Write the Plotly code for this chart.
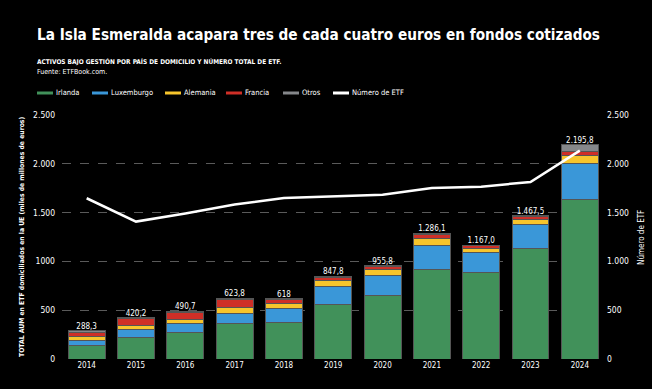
import plotly.graph_objects as go

years = ["2014", "2015", "2016", "2017", "2018", "2019", "2020", "2021", "2022", "2023", "2024"]
irlanda = [136, 222, 276, 361, 372, 556, 655, 914, 883, 1129, 1630]
luxemburgo = [52, 78, 85, 110, 143, 187, 201, 249, 205, 249, 378]
alemania = [40, 48, 48, 58, 51, 58, 61, 71, 41, 51, 72]
francia = [45, 65, 72, 85, 44, 38, 34, 41, 34, 34, 51]
otros = [15.3, 7.2, 9.7, 9.8, 8.0, 8.8, 4.8, 11.1, 4.0, 4.5, 64.8]
totales = [288.3, 420.2, 490.7, 623.8, 618.0, 847.8, 955.8, 1286.1, 1167.0, 1467.5, 2195.8]
etiquetas = ["288,3", "420,2", "490,7", "623,8", "618", "847,8", "955,8", "1.286,1", "1.167,0", "1.467,5", "2.195,8"]
num_etf = [1647, 1408, 1490, 1582, 1650, 1667, 1684, 1753, 1766, 1814, 2135]

left_ticks = [0, 500, 1000, 1500, 2000, 2500]
left_text = ["0", "500", "1000", "1.500", "2.000", "2.500"]
right_text = ["0", "500", "1.000", "1.500", "2.000", "2.500"]

series = [
    ("Irlanda", irlanda, "#41915a"),
    ("Luxemburgo", luxemburgo, "#3a97d8"),
    ("Alemania", alemania, "#f7c52c"),
    ("Francia", francia, "#cf2f27"),
    ("Otros", otros, "#85878a"),
]

FONT = "DejaVu Sans Condensed, Roboto Condensed, Roboto, sans-serif"
fig = go.Figure()
for name, vals, col in series:
    fig.add_trace(go.Bar(x=years, y=vals, name=name, marker=dict(color=col, line=dict(color="#555555", width=1)),
                         showlegend=False))

fig.add_trace(go.Scatter(x=years, y=totales, mode="text", text=etiquetas, textposition="top center",
                         textfont=dict(family=FONT, size=8, color="white"), showlegend=False, cliponaxis=False))
fig.add_trace(go.Scatter(x=years, y=num_etf, mode="lines", name="Número de ETF", yaxis="y2",
                         line=dict(color="white", width=2.5), showlegend=False))

W, H = 652, 389
L, R, T, B = 62, 50, 115, 30
pw, ph = W - L - R, H - T - B

def px(x):
    return (x - L) / pw

def py(y):
    return (H - B - y) / ph

ann = [
    dict(text="<b>La Isla Esmeralda acapara tres de cada cuatro euros en fondos cotizados</b>", x=px(35), y=py(35),
         xanchor="left", yanchor="middle", font=dict(family=FONT, size=15.2, color="white")),
    dict(text="<b>ACTIVOS BAJO GESTIÓN POR PAÍS DE DOMICILIO Y NÚMERO TOTAL DE ETF.</b>", x=px(35), y=py(61),
         xanchor="left", yanchor="middle", font=dict(family=FONT, size=6.5, color="white")),
    dict(text="Fuente: ETFBook.com.", x=px(35), y=py(72),
         xanchor="left", yanchor="middle", font=dict(family=FONT, size=7, color="white")),
    dict(text="<b>TOTAL AUM en ETF domiciliados en la UE (miles de millones de euros)</b>", x=px(22), y=py(237),
         xanchor="center", yanchor="middle", textangle=-90, font=dict(family=FONT, size=6.8, color="white")),
    dict(text="Número de ETF", x=px(641), y=py(238),
         xanchor="center", yanchor="middle", textangle=-90, font=dict(family=FONT, size=8, color="white")),
]
shapes = []
legend_items = [("Irlanda", "#41915a", 37), ("Luxemburgo", "#3a97d8", 92), ("Alemania", "#f7c52c", 165),
                ("Francia", "#cf2f27", 226), ("Otros", "#85878a", 283), ("Número de ETF", "white", 333)]
for name, col, x0 in legend_items:
    shapes.append(dict(type="line", xref="paper", yref="paper", x0=px(x0), x1=px(x0 + 16), y0=py(93), y1=py(93),
                       line=dict(color=col, width=3)))
    ann.append(dict(text=name, x=px(x0 + 17), y=py(92), xanchor="left", yanchor="middle",
                    font=dict(family=FONT, size=7.5, color="white")))
for a in ann:
    a.update(xref="paper", yref="paper", showarrow=False)

fig.update_layout(
    width=W, height=H, barmode="stack", bargap=0.25,
    paper_bgcolor="black", plot_bgcolor="black",
    margin=dict(l=L, r=R, t=T, b=B),
    font=dict(family=FONT, color="white", size=8.5),
    annotations=ann, shapes=shapes,
    xaxis=dict(type="category", range=[-0.5, 10.45], showgrid=False, showline=False, ticks="",
               tickfont=dict(family=FONT, size=8, color="white")),
    yaxis=dict(range=[0, 2500], tickvals=left_ticks, ticktext=left_text, showgrid=True, gridcolor="#5a5a5a",
               griddash="dash", gridwidth=1, zeroline=False, ticks="", ticklabelstandoff=6,
               tickfont=dict(family=FONT, size=8.5, color="white")),
    yaxis2=dict(range=[0, 2500], tickvals=left_ticks, ticktext=right_text, overlaying="y", side="right",
                showgrid=False, zeroline=False, ticks="", ticklabelstandoff=4,
                tickfont=dict(family=FONT, size=8.5, color="white")),
)
fig.write_html("out.html", config={"displayModeBar": False},
               post_script="document.body.style.margin='0';document.body.style.overflow='hidden';document.body.style.background='black';")
